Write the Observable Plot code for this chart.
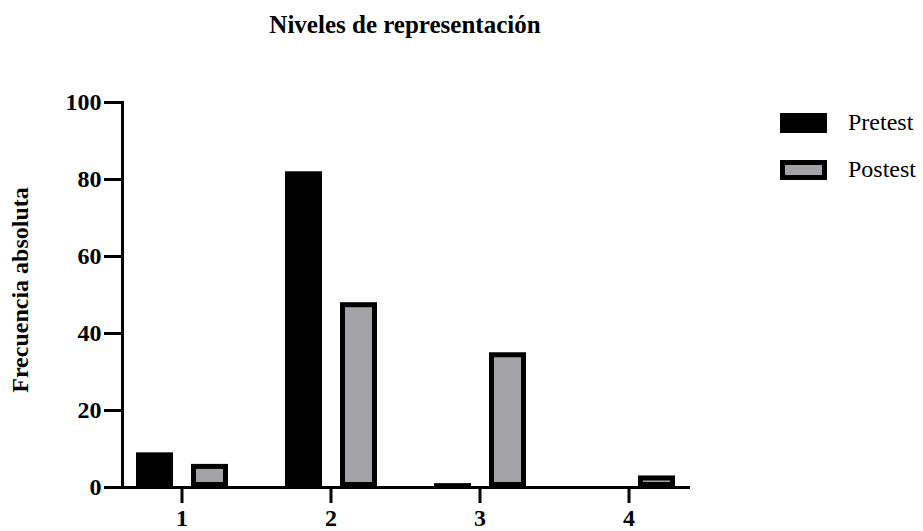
<!DOCTYPE html>
<html>
<head>
<meta charset="utf-8">
<script src="https://cdn.jsdelivr.net/npm/d3@7"></script>
<script src="https://cdn.jsdelivr.net/npm/@observablehq/plot@0.6"></script>
<style>
  html, body { margin: 0; padding: 0; background: #fff; }
  #wrap { position: relative; width: 923px; height: 531px; font-family: "Liberation Serif", "Times New Roman", serif; color: #000; }
  #title { position: absolute; left: 0; top: 12px; width: 810px; text-align: center; font-size: 25px; line-height: 25px; font-weight: bold; }
  #ylabel { position: absolute; left: -130px; top: 278px; width: 300px; text-align: center; font-size: 24px; line-height: 24px; font-weight: bold; transform: rotate(-90deg); }
  .sw { position: absolute; left: 780px; width: 47px; height: 20px; box-sizing: border-box; }
  .lt { position: absolute; left: 848px; font-size: 24px; line-height: 24px; }
  #chart svg { position: absolute; left: 0; top: 0; }
</style>
</head>
<body>
<div id="wrap">
  <div id="chart"></div>
  <div id="title">Niveles de representación</div>
  <div id="ylabel">Frecuencia absoluta</div>
  <div id="legend"></div>
</div>
<script>
const categories = ["1", "2", "3", "4"];
const series = ["Pretest", "Postest"];
const pretest = [9, 82, 1, 0];
const postest = [6, 48, 35, 3];
const yTicks = [0, 20, 40, 60, 80, 100];
const seriesFill = ["#000000", "#a3a3a7"];

const table = [];
categories.forEach((c, i) => {
  table.push({cat: c, series: "Pretest", value: pretest[i]});
  table.push({cat: c, series: "Postest", value: postest[i]});
});

const plot = Plot.plot({
  width: 923,
  height: 531,
  marginLeft: 118,
  marginRight: 230,
  marginTop: 102,
  marginBottom: 44,
  style: {fontFamily: "'Liberation Serif', 'Times New Roman', serif", fontSize: "24px", fontWeight: "bold", color: "#000", background: "transparent"},
  fx: {domain: categories, paddingInner: 0.2, paddingOuter: 0.0295, label: null},
  x: {domain: series, paddingInner: 0.333, paddingOuter: 0.24, axis: null},
  y: {domain: [0, 100], label: null},
  marks: [
    Plot.barY(table.filter(d => d.series === "Pretest"), {fx: "cat", x: "series", y: "value", fill: seriesFill[0]}),
    Plot.barY(table.filter(d => d.series === "Postest"), {fx: "cat", x: "series", y: "value", fill: seriesFill[1], stroke: "#000", strokeWidth: 5, inset: 2.5}),
    Plot.frame({anchor: "bottom", facet: "super", stroke: "#000", strokeWidth: 3}),
    Plot.frame({anchor: "left", facet: "super", stroke: "#000", strokeWidth: 3}),
    Plot.axisY({ticks: yTicks, tickSize: 18, tickPadding: 3, strokeWidth: 3, label: null, fontSize: 24, fontWeight: "bold"}),
    Plot.axisFx({anchor: "bottom", tickSize: 16, tickPadding: 5, strokeWidth: 3, label: null, fontSize: 24, fontWeight: "bold"})
  ]
});
document.getElementById("chart").appendChild(plot);

const legend = document.getElementById("legend");
series.forEach((s, i) => {
  const sw = document.createElement("div");
  sw.className = "sw";
  sw.style.top = (113 + i * 47) + "px";
  sw.style.background = seriesFill[i];
  if (i === 1) sw.style.border = "5px solid #000";
  legend.appendChild(sw);
  const t = document.createElement("div");
  t.className = "lt";
  t.style.top = (110 + i * 47) + "px";
  t.textContent = s;
  legend.appendChild(t);
});
</script>
</body>
</html>
